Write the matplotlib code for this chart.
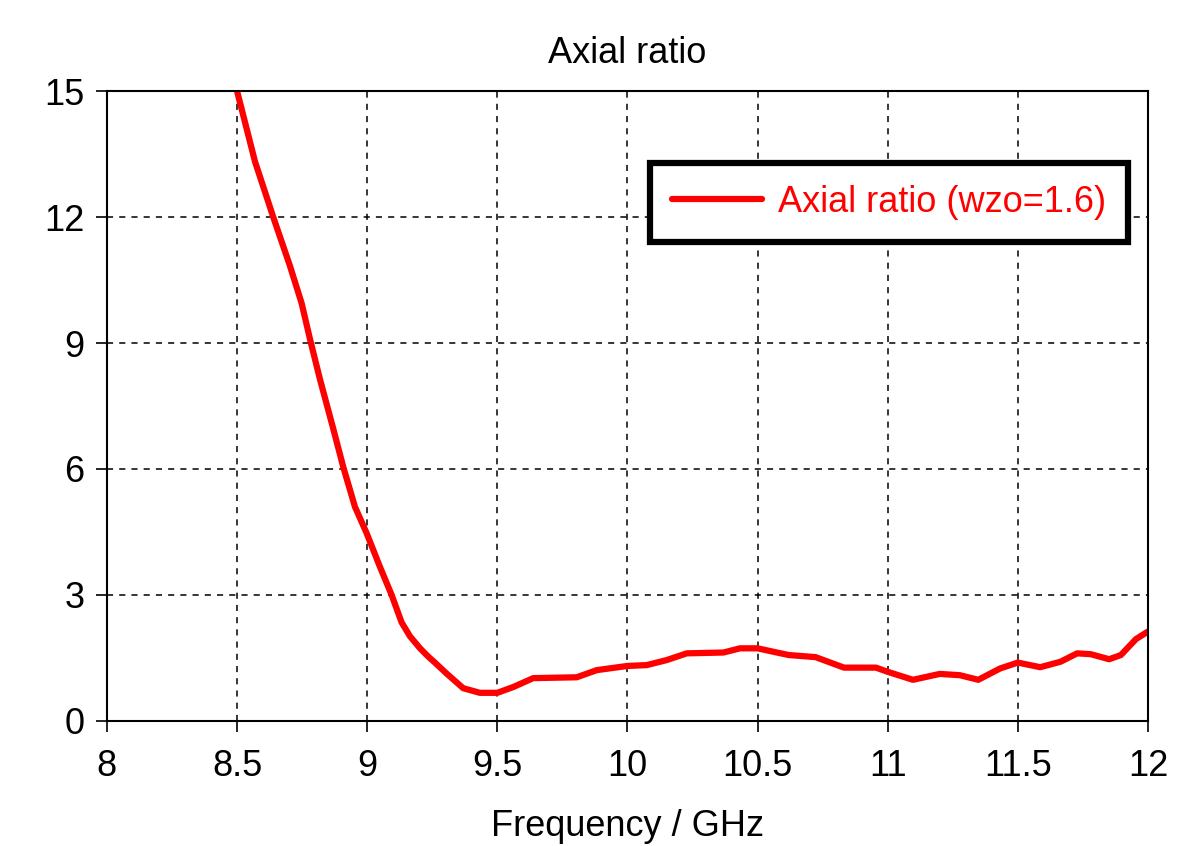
import matplotlib.pyplot as plt

# values
freq = [8.5, 8.569, 8.639, 8.702, 8.748, 8.78, 8.818, 8.87, 8.908, 8.953,
        8.998, 9.049, 9.094, 9.132, 9.164, 9.203, 9.235, 9.262, 9.305, 9.369,
        9.433, 9.5, 9.562, 9.638, 9.805, 9.882, 10.0, 10.074, 10.151, 10.228,
        10.369, 10.433, 10.5, 10.574, 10.62, 10.723, 10.832, 10.955, 11.0, 11.097,
        11.2, 11.277, 11.348, 11.432, 11.5, 11.586, 11.664, 11.728, 11.78, 11.851,
        11.896, 11.954, 12.0]
axial = [15.0, 13.32, 12.0, 10.86, 9.95, 9.1, 8.15, 6.95, 6.05, 5.1,
         4.47, 3.67, 3.0, 2.35, 2.02, 1.73, 1.53, 1.38, 1.13, 0.78,
         0.67, 0.67, 0.81, 1.02, 1.04, 1.21, 1.31, 1.33, 1.45, 1.61,
         1.63, 1.73, 1.73, 1.63, 1.57, 1.52, 1.27, 1.27, 1.17, 0.98,
         1.12, 1.09, 0.98, 1.25, 1.39, 1.28, 1.41, 1.61, 1.59, 1.47,
         1.57, 1.95, 2.13]

xticks = [8, 8.5, 9, 9.5, 10, 10.5, 11, 11.5, 12]
xticklabels = ["8", "8.5", "9", "9.5", "10", "10.5", "11", "11.5", "12"]
yticks = [0, 3, 6, 9, 12, 15]

plt.rcParams['font.family'] = ['Liberation Sans', 'DejaVu Sans']

fig = plt.figure(figsize=(11.88, 8.46), dpi=100)
ax = fig.add_axes([0.090, 0.1478, 0.8763, 0.7446])

ax.plot(freq, axial, color='#ff0000', linewidth=4.5, solid_capstyle='round',
        label="Axial ratio (wzo=1.6)")

ax.set_xlim(8, 12)
ax.set_ylim(0, 15)
ax.set_xticks(xticks)
ax.set_xticklabels(xticklabels)
ax.set_yticks(yticks)
ax.tick_params(labelsize=26, direction='out', length=8, width=1.2, pad=12)
ax.tick_params(axis='y', pad=8)

ax.grid(True, color='black', linestyle=(0, (4, 4)), linewidth=1.1)
for s in ax.spines.values():
    s.set_linewidth(1.5)

leg = ax.legend(loc='upper right', bbox_to_anchor=(0.998, 0.914), fontsize=26,
                frameon=True, fancybox=False, framealpha=1, handlelength=2.5,
                handletextpad=0.45, borderpad=0.6, labelcolor='#ff0000')
leg.get_frame().set_edgecolor('black')
leg.get_frame().set_linewidth(4.5)

ax.set_title("Axial ratio", fontsize=26, pad=20)
ax.set_xlabel("Frequency / GHz", fontsize=26, labelpad=18)

fig.savefig("out.png", dpi=100)
